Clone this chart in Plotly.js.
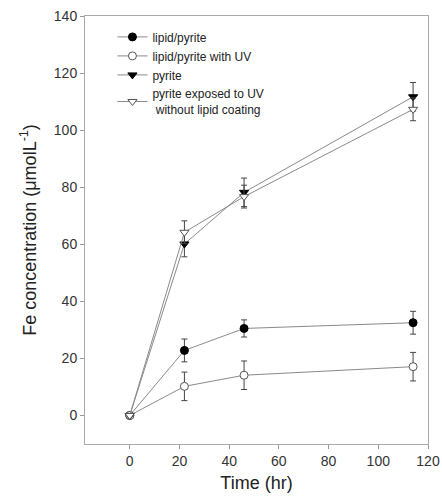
<!DOCTYPE html>
<html><head><meta charset="utf-8">
<script src="https://cdn.plot.ly/plotly-3.0.1.min.js"></script>
<style>body{margin:0;background:#fff}#c{width:442px;height:499px}</style>
</head><body><div id="c"></div>
<script>
const time = [0, 22, 46, 114];
const lipidPyrite = [0, 22.8, 30.5, 32.5];
const lipidPyriteErr = [0, 4, 3, 4];
const lipidPyriteUV = [0, 10.2, 14.1, 17.1];
const lipidPyriteUVErr = [0, 5, 5, 5];
const pyrite = [0, 60.1, 78.2, 111.7];
const pyriteErr = [0, 4.5, 5, 5];
const pyriteUV = [0, 64.2, 76.7, 107.3];
const pyriteUVErr = [0, 4, 4, 4];
const names = ['lipid/pyrite', 'lipid/pyrite with UV', 'pyrite', 'pyrite exposed to UV<br> without lipid coating'];

const lineCol = '#8a8a8a';
function tr(y, err, name, symbol, fill, size) {
  return {
    x: time, y: y, name: name, type: 'scatter', mode: 'lines+markers',
    line: {color: lineCol, width: 1},
    marker: {symbol: symbol, size: size, color: fill ? '#000' : '#fff', line: {color: fill ? '#000' : '#555', width: 1}},
    error_y: {type: 'data', array: err, visible: true, color: '#444', thickness: 1, width: 3}
  };
}
const data = [
  tr(lipidPyrite, lipidPyriteErr, names[0], 'circle', true, 8),
  tr(lipidPyriteUV, lipidPyriteUVErr, names[1], 'circle', false, 8),
  tr(pyrite, pyriteErr, names[2], 'triangle-down', true, 8),
  tr(pyriteUV, pyriteUVErr, names[3], 'triangle-down', false, 8)
];
const layout = {
  width: 442, height: 499,
  margin: {l: 85, r: 14, t: 16, b: 55},
  paper_bgcolor: '#fff', plot_bgcolor: '#fff',
  font: {family: 'Liberation Sans, Arial, sans-serif', color: '#333'},
  showlegend: true,
  legend: {x: 0.08, y: 0.985, xanchor: 'left', yanchor: 'top', bgcolor: 'rgba(0,0,0,0)', font: {size: 12, color: '#222'}, tracegroupgap: 0, itemwidth: 30},
  xaxis: {
    range: [-18, 120], tickvals: [0, 20, 40, 60, 80, 100, 120],
    ticks: 'outside', ticklen: 4, tickcolor: '#999', showgrid: false, zeroline: false,
    showline: true, linecolor: '#aaa', mirror: true, linewidth: 1,
    tickfont: {size: 14, color: '#333'},
    title: {text: 'Time (hr)', font: {size: 18, color: '#222'}, standoff: 8}
  },
  yaxis: {
    range: [-10, 140], tickvals: [0, 20, 40, 60, 80, 100, 120, 140],
    ticks: 'outside', ticklen: 4, tickcolor: '#999', showgrid: false, zeroline: false,
    showline: true, linecolor: '#aaa', mirror: true, linewidth: 1,
    tickfont: {size: 14, color: '#333'},
    title: {text: 'Fe concentration (\u03bcmolL<sup>-1</sup>)', font: {size: 18, color: '#222'}, standoff: 12}
  }
};
Plotly.newPlot('c', data, layout, {displayModeBar: false, staticPlot: true});
</script></body></html>
